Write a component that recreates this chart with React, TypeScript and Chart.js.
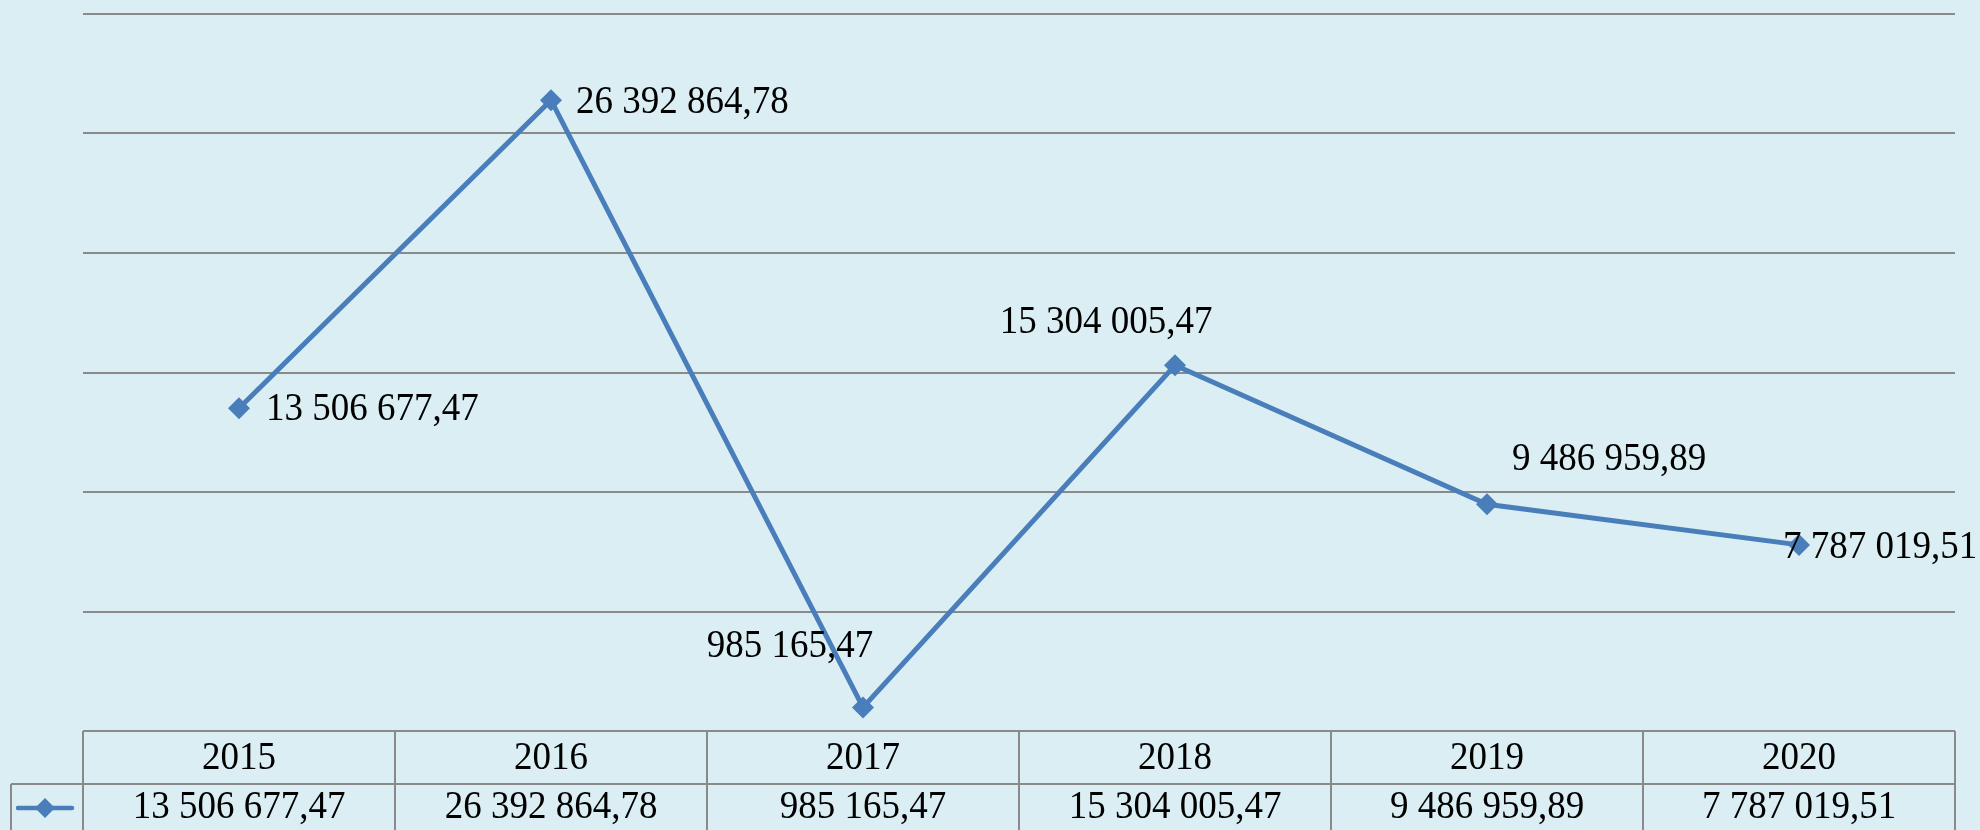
import React, { useEffect, useRef } from "react";
import { Chart, registerables } from "chart.js";

Chart.register(...registerables);

const categories = ["2015", "2016", "2017", "2018", "2019", "2020"];
const seriesValues = [13506677.47, 26392864.78, 985165.47, 15304005.47, 9486959.89, 7787019.51];
// label placement relative to each point: [dx, dy, align]
const labelOffsets: [number, number, CanvasTextAlign][] = [
  [27, 2, "left"],
  [25, 2, "left"],
  [-73, -61, "center"],
  [-69, -43, "center"],
  [122, -45, "center"],
  [-16, 3, "left"],
];
const yMin = 0;
const yMax = 30000000;
const yStep = 5000000;

const LINE_COLOR = "#4A7EBB";
const GRID_COLOR = "#8A8A8A";
const BG = "#DAEEF3";
const FONT = "37px 'Liberation Serif', 'Times New Roman', serif";
const STRETCH = 1.06;

function fmt(v: number): string {
  const [i, f] = v.toFixed(2).split(".");
  const g = i.replace(/\B(?=(\d{3})+(?!\d))/g, " ");
  return g + "," + f;
}

function drawText(ctx: CanvasRenderingContext2D, t: string, x: number, y: number, align: CanvasTextAlign) {
  ctx.save();
  ctx.translate(x, y);
  ctx.scale(1, STRETCH);
  ctx.font = FONT;
  ctx.fillStyle = "#000";
  ctx.textAlign = align;
  ctx.textBaseline = "middle";
  ctx.fillText(t, 0, 0);
  ctx.restore();
}

const labelsPlugin = {
  id: "pointLabels",
  afterDatasetsDraw(chart: any) {
    const ctx = chart.ctx as CanvasRenderingContext2D;
    const meta = chart.getDatasetMeta(0);
    meta.data.forEach((pt: any, i: number) => {
      const [dx, dy, al] = labelOffsets[i];
      drawText(ctx, fmt(seriesValues[i]), pt.x + dx, pt.y + dy, al);
    });
  },
};

const tablePlugin = {
  id: "dataTable",
  afterDraw(chart: any) {
    const ctx = chart.ctx as CanvasRenderingContext2D;
    const area = chart.chartArea;
    const xs = chart.scales.x;
    const n = categories.length;
    const colW = (area.right - area.left) / n;
    const top = area.bottom;
    const mid = top + 53;
    const bottom = chart.height + 2;
    const legendLeft = 11;
    ctx.save();
    ctx.strokeStyle = GRID_COLOR;
    ctx.lineWidth = 2;
    ctx.beginPath();
    ctx.moveTo(area.left, top);
    ctx.lineTo(area.right, top);
    ctx.moveTo(legendLeft, mid);
    ctx.lineTo(area.right, mid);
    ctx.moveTo(legendLeft, mid);
    ctx.lineTo(legendLeft, bottom);
    for (let i = 0; i <= n; i++) {
      const x = area.left + i * colW;
      ctx.moveTo(x, top);
      ctx.lineTo(x, bottom);
    }
    ctx.stroke();
    // legend key
    const ky = (mid + 830) / 2 + 1;
    ctx.strokeStyle = LINE_COLOR;
    ctx.lineWidth = 4.5;
    ctx.lineCap = "round";
    ctx.beginPath();
    ctx.moveTo(18, ky);
    ctx.lineTo(72, ky);
    ctx.stroke();
    ctx.fillStyle = LINE_COLOR;
    ctx.beginPath();
    const kx = 45;
    const r = 10;
    ctx.moveTo(kx, ky - r);
    ctx.lineTo(kx + r, ky);
    ctx.lineTo(kx, ky + r);
    ctx.lineTo(kx - r, ky);
    ctx.closePath();
    ctx.fill();
    ctx.restore();
    for (let i = 0; i < n; i++) {
      const cx = xs.getPixelForValue(i);
      drawText(ctx, categories[i], cx, (top + mid) / 2 + 1, "center");
      drawText(ctx, fmt(seriesValues[i]), cx, (mid + 830) / 2 + 1, "center");
    }
  },
};

export default function App() {
  const ref = useRef<HTMLCanvasElement>(null);
  useEffect(() => {
    if (!ref.current) return;
    const chart = new Chart(ref.current, {
      type: "line",
      data: {
        labels: categories,
        datasets: [
          {
            data: seriesValues,
            borderColor: LINE_COLOR,
            backgroundColor: LINE_COLOR,
            borderWidth: 5,
            pointStyle: "rectRot",
            pointRadius: 11,
            pointBorderWidth: 0,
            pointBackgroundColor: LINE_COLOR,
            tension: 0,
          },
        ],
      },
      options: {
        animation: false,
        responsive: false,
        maintainAspectRatio: false,
        layout: { padding: { left: 83, right: 25, top: 14, bottom: 99 } },
        plugins: { legend: { display: false }, tooltip: { enabled: false } },
        scales: {
          x: {
            type: "category",
            offset: true,
            display: false,
            afterFit: (s: any) => { s.height = 0; },
          },
          y: {
            min: yMin,
            max: yMax,
            ticks: { display: false, stepSize: yStep },
            grid: { color: GRID_COLOR, lineWidth: 2, drawTicks: false },
            border: { display: false },
            afterFit: (s: any) => { s.width = 0; },
          },
        },
      },
      plugins: [labelsPlugin, tablePlugin],
    });
    return () => chart.destroy();
  }, []);
  return (
    <div style={{ position: "fixed", left: 0, top: 0, width: 1980, height: 830, background: BG }}>
      <canvas ref={ref} width={1980} height={830} style={{ display: "block" }} />
    </div>
  );
}
